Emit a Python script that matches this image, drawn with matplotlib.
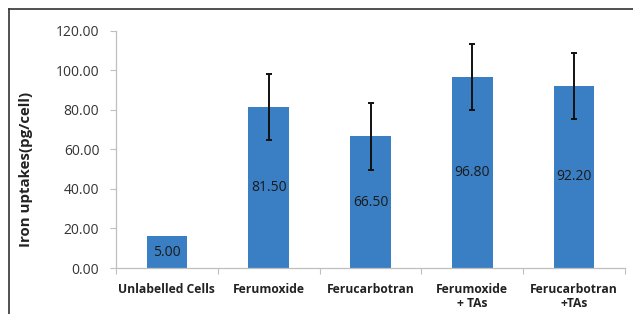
import matplotlib
matplotlib.use("Agg")
import matplotlib.pyplot as plt
from matplotlib.lines import Line2D
import numpy as np

categories = ["Unlabelled Cells", "Ferumoxide", "Ferucarbotran",
              "Ferumoxide\n+ TAs", "Ferucarbotran\n+TAs"]
heights = [16.0, 81.5, 66.5, 96.8, 92.2]
value_labels = ["5.00", "81.50", "66.50", "96.80", "92.20"]
errors = [0.0, 16.8, 16.8, 16.7, 16.7]
yticks = [0, 20, 40, 60, 80, 100, 120]

plt.rcParams['font.family'] = ['Open Sans', 'DejaVu Sans']

W, H = 633, 314
fig = plt.figure(figsize=(W / 100, H / 100), dpi=100)
ax = fig.add_axes([116 / W, (H - 268) / H, (625 - 116) / W, (268 - 30.7) / H])

x = np.arange(len(categories))
bars = ax.bar(x, heights, width=0.4, color="#3a7fc4", zorder=2)
for xi, h, e in zip(x, heights, errors):
    if e > 0:
        ax.errorbar(xi, h, yerr=e, fmt='none', ecolor='#111111',
                    elinewidth=1.4, capsize=2.5, capthick=1.4, zorder=3)
for xi, h, lab in zip(x, heights, value_labels):
    ax.text(xi, h / 2, lab, ha='center', va='center', fontsize=10,
            color='#1a1a1a', zorder=4)

ax.set_xlim(-0.5, len(categories) - 0.5)
ax.set_ylim(0, 120)
ax.set_yticks(yticks)
ax.set_yticklabels([f"{v:.2f}" for v in yticks], fontsize=10, color='#333333')
ax.tick_params(axis='y', length=4, width=0.8, color='#bfbfbf', pad=8)

ax.set_xticks(x)
ax.set_xticklabels(categories, fontsize=8.7, fontweight='bold', color='#222222',
                   linespacing=1.1)
ax.tick_params(axis='x', which='major', length=0, pad=11)
ax.set_xticks(np.arange(-0.5, len(categories) + 0.5, 1), minor=True)
ax.tick_params(axis='x', which='minor', length=4, width=0.8, color='#bfbfbf')

for s in ['top', 'right']:
    ax.spines[s].set_visible(False)
for s in ['left', 'bottom']:
    ax.spines[s].set_color('#bfbfbf')
    ax.spines[s].set_linewidth(0.9)

ax.set_ylabel("Iron uptakes(pg/cell)", fontsize=10.8, fontweight='bold', color='#222222')
ax.yaxis.set_label_coords((33 - 116) / (625 - 116), 0.417)

# outer frame (left and top visible)
fig.add_artist(Line2D([8.5 / W, 8.5 / W], [0, (H - 9) / H], color='#333333', lw=1.2,
                      transform=fig.transFigure))
fig.add_artist(Line2D([8.5 / W, 1], [(H - 9) / H, (H - 9) / H], color='#333333', lw=1.2,
                      transform=fig.transFigure))

fig.savefig("out.png", dpi=100)
